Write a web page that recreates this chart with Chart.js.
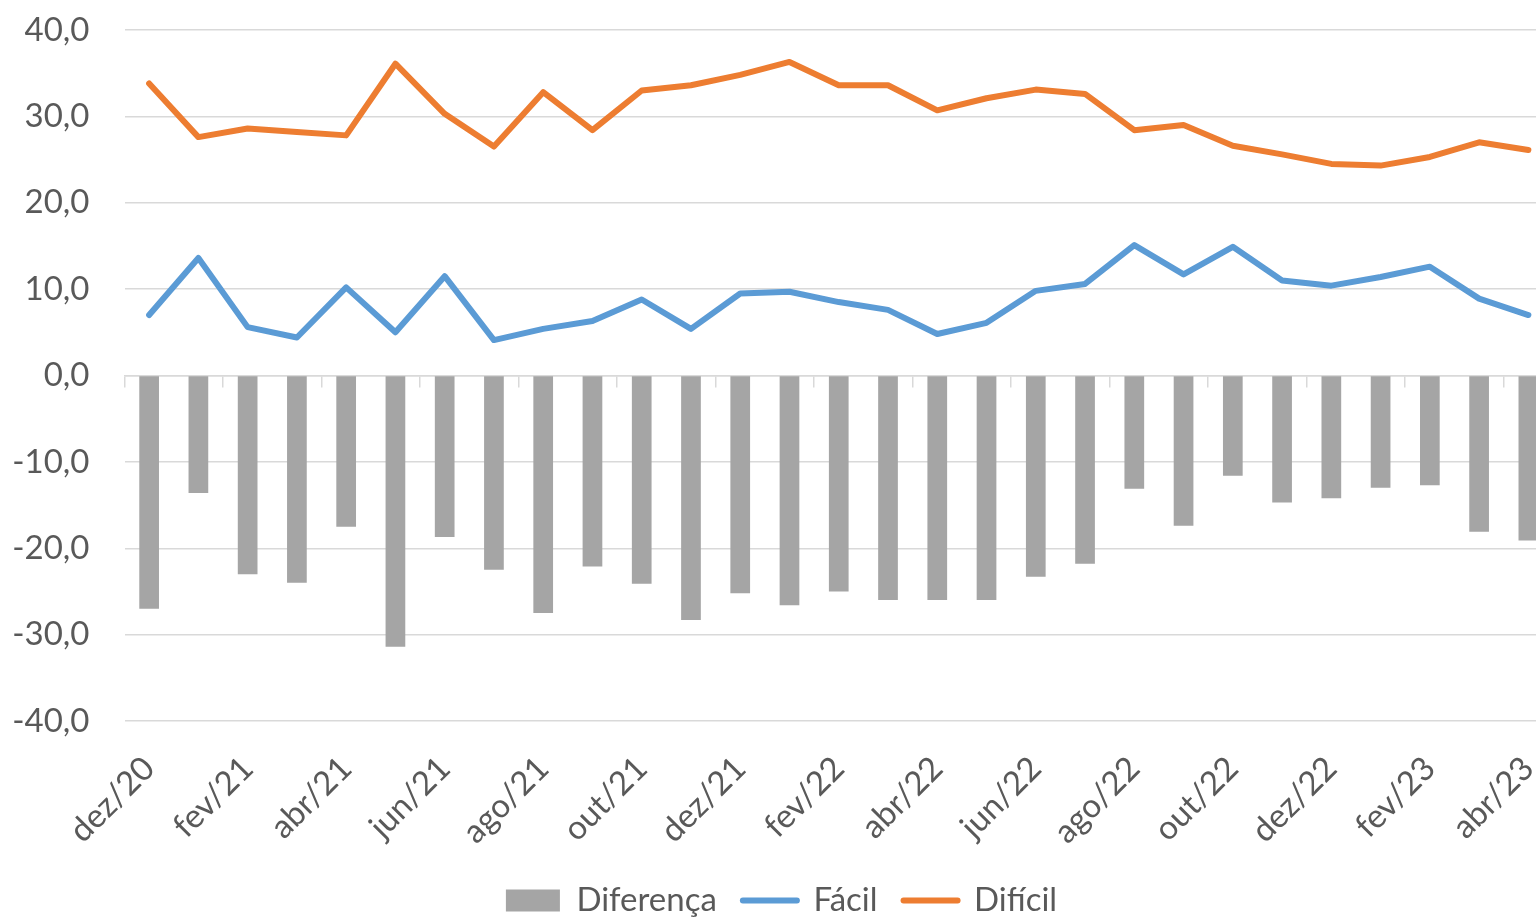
<!DOCTYPE html>
<html>
<head>
<meta charset="utf-8">
<script src="https://cdn.jsdelivr.net/npm/chart.js@4"></script>
<style>
    html, body { margin: 0; padding: 0; background: #ffffff; overflow: hidden; }
    canvas { display: block; }
</style>
</head>
<body>
<canvas id="chart" width="1560" height="927"></canvas>
<script>
const months = [
    'dez/20', 'jan/21', 'fev/21', 'mar/21', 'abr/21', 'mai/21', 'jun/21', 'jul/21',
    'ago/21', 'set/21', 'out/21', 'nov/21', 'dez/21', 'jan/22', 'fev/22', 'mar/22',
    'abr/22', 'mai/22', 'jun/22', 'jul/22', 'ago/22', 'set/22', 'out/22', 'nov/22',
    'dez/22', 'jan/23', 'fev/23', 'mar/23', 'abr/23'
];
const facil = [
    7.0, 13.6, 5.6, 4.4, 10.2, 5.0, 11.5, 4.1, 5.4, 6.3, 8.8, 5.4, 9.5, 9.7, 8.5,
    7.6, 4.8, 6.1, 9.8, 10.6, 15.1, 11.7, 14.9, 11.0, 10.4, 11.4, 12.6, 8.9, 7.0
];
const dificil = [
    33.8, 27.6, 28.6, 28.2, 27.8, 36.1, 30.3, 26.5, 32.8, 28.4, 33.0, 33.6, 34.8, 36.3, 33.6,
    33.6, 30.7, 32.1, 33.1, 32.6, 28.4, 29.0, 26.6, 25.6, 24.5, 24.3, 25.3, 27.0, 26.1
];
const diferenca = [
    -27.0, -13.6, -23.0, -24.0, -17.5, -31.4, -18.7, -22.5, -27.5, -22.1, -24.1, -28.3, -25.2, -26.6, -25.0,
    -26.0, -26.0, -26.0, -23.3, -21.8, -13.1, -17.4, -11.6, -14.7, -14.2, -13.0, -12.7, -18.1, -19.1
];
const yMin = -40;
const yMax = 40;
const yStep = 10;

const textColor = '#595959';
const gridColor = '#d9d9d9';
const font = { family: 'Lato', size: 33 };

const ctx = document.getElementById('chart').getContext('2d');
new Chart(ctx, {
    type: 'bar',
    data: {
        labels: months,
        datasets: [
            {
                label: 'Diferença',
                data: diferenca,
                backgroundColor: '#a5a5a5',
                barPercentage: 0.4,
                categoryPercentage: 1,
            },
            {
                type: 'line',
                label: 'Fácil',
                data: facil,
                borderColor: '#5b9bd5',
                backgroundColor: '#5b9bd5',
                borderWidth: 6,
                borderCapStyle: 'round',
                borderJoinStyle: 'round',
                pointRadius: 0,
                tension: 0,
            },
            {
                type: 'line',
                label: 'Difícil',
                data: dificil,
                borderColor: '#ed7d31',
                backgroundColor: '#ed7d31',
                borderWidth: 6,
                borderCapStyle: 'round',
                borderJoinStyle: 'round',
                pointRadius: 0,
                tension: 0,
            },
        ],
    },
    options: {
        responsive: false,
        animation: false,
        layout: { padding: { left: 10, right: 7, top: 30, bottom: 0 } },
        plugins: {
            tooltip: { enabled: false },
            legend: {
                position: 'bottom',
                labels: {
                    usePointStyle: true,
                    pointStyleWidth: 54,
                    boxHeight: 22,
                    padding: 26,
                    color: textColor,
                    font: font,
                    generateLabels: (chart) => {
                        const items = Chart.defaults.plugins.legend.labels.generateLabels(chart);
                        items.forEach((item) => {
                            const ds = chart.data.datasets[item.datasetIndex];
                            if (ds.type === 'line') {
                                item.pointStyle = 'line';
                                item.strokeStyle = ds.borderColor;
                                item.fillStyle = ds.borderColor;
                                item.lineWidth = 6;
                                item.lineCap = 'round';
                            } else {
                                item.pointStyle = 'rect';
                                item.fillStyle = ds.backgroundColor;
                                item.lineWidth = 0;
                            }
                        });
                        return items;
                    },
                },
            },
        },
        scales: {
            // axis line crossing at zero, with tick marks every two months
            x: {
                type: 'category',
                position: { y: 0 },
                offset: true,
                grid: {
                    offset: true,
                    drawOnChartArea: false,
                    drawTicks: true,
                    tickLength: 11,
                    lineWidth: 1.5,
                    color: (c) => (c.index % 2 === 0 ? gridColor : 'rgba(0,0,0,0)'),
                },
                border: { color: gridColor, width: 1.5 },
                ticks: { display: false },
            },
            // month labels at the bottom
            x2: {
                type: 'category',
                position: 'bottom',
                offset: true,
                grid: { display: false, drawTicks: false },
                border: { display: false },
                ticks: {
                    autoSkip: false,
                    minRotation: 45,
                    maxRotation: 45,
                    padding: 28,
                    color: textColor,
                    font: font,
                    callback: (v, i) => (i % 2 === 0 ? months[i] : ''),
                },
                afterFit: (s) => { s.height = 137; s.paddingRight = 0; },
            },
            y: {
                min: yMin,
                max: yMax,
                grid: { color: gridColor, lineWidth: 1.5, drawTicks: false },
                border: { display: false },
                ticks: {
                    stepSize: yStep,
                    padding: 35,
                    color: textColor,
                    font: font,
                    callback: (v) => v.toFixed(1).replace('.', ','),
                },
                afterFit: (s) => { s.width = 114.5; s.paddingTop = 0; s.paddingBottom = 0; },
            },
        },
    },
});
</script>
</body>
</html>
